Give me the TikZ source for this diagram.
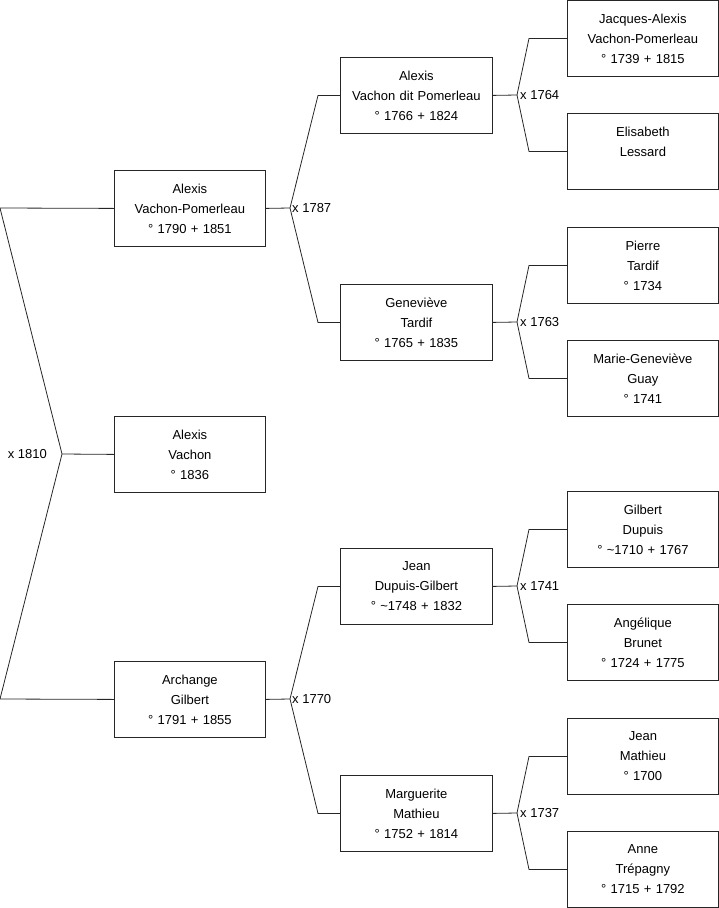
\documentclass[tikz,border=0pt]{standalone}
\usepackage{fontspec}
\setmainfont{Liberation Sans}
\usetikzlibrary{positioning}

\tikzset{
  person/.style={draw=black!85, line width=0.8pt, anchor=north west, inner sep=0pt,
    minimum width=151pt, minimum height=76pt, text width=151pt, align=center,
    font=\fontsize{13pt}{20pt}\selectfont},
  link/.style={draw=black!85, line width=0.8pt},
  wed/.style={font=\fontsize{13pt}{15pt}\selectfont, inner sep=0pt}
}

\begin{document}
\begin{tikzpicture}[x=1pt, y=-1pt]
  \useasboundingbox (0,0) rectangle (719,908);

  % generation 1
  \node[person] (a1) at (114,170) {Alexis\\Vachon-Pomerleau\\° 1790 + 1851};
  \node[person] (a0) at (114,416) {Alexis\\Vachon\\° 1836};
  \node[person] (a2) at (114,661) {Archange\\Gilbert\\° 1791 + 1855};

  % generation 2
  \node[person, minimum width=152pt, text width=152pt] (b1) at (340,57) {Alexis\\Vachon dit Pomerleau\\° 1766 + 1824};
  \node[person, minimum width=152pt, text width=152pt] (b2) at (340,284) {Geneviève\\Tardif\\° 1765 + 1835};
  \node[person, minimum width=152pt, text width=152pt] (b3) at (340,548) {Jean\\Dupuis-Gilbert\\° \textasciitilde 1748 + 1832};
  \node[person, minimum width=152pt, text width=152pt] (b4) at (340,775) {Marguerite\\Mathieu\\° 1752 + 1814};

  % generation 3
  \node[person] (c1) at (567,0) {Jacques-Alexis\\Vachon-Pomerleau\\° 1739 + 1815};
  \node[person] (c2) at (567,113) {Elisabeth\\Lessard\\\mbox{}};
  \node[person] (c3) at (567,227) {Pierre\\Tardif\\° 1734};
  \node[person] (c4) at (567,340) {Marie-Geneviève\\Guay\\° 1741};
  \node[person] (c5) at (567,491) {Gilbert\\Dupuis\\° \textasciitilde 1710 + 1767};
  \node[person] (c6) at (567,604) {Angélique\\Brunet\\° 1724 + 1775};
  \node[person] (c7) at (567,718) {Jean\\Mathieu\\° 1700};
  \node[person] (c8) at (567,831) {Anne\\Trépagny\\° 1715 + 1792};

  % forks
  \coordinate (f0) at (62,454);
  \coordinate (u0) at (0,208);
  \coordinate (d0) at (0,699);
  \coordinate (f1) at (290,208);
  \coordinate (f2) at (290,699);
  \coordinate (g1) at (517,95);
  \coordinate (g2) at (517,322);
  \coordinate (g3) at (517,586);
  \coordinate (g4) at (517,813);

  \draw[link] (a1.west) -- (u0) -- (f0) -- (d0) -- (a2.west);
  \draw[link] (f0) -- (a0.west);
  \node[wed, left=15pt of f0] (m0) {x 1810};

  \draw[link] (a1.east) -- (f1);
  \draw[link] (b1.west) -- ++(-22,0) -- (f1) -- ([xshift=-22pt]b2.west) -- (b2.west);
  \node[wed, right=2pt of f1] (m1) {x 1787};
  \draw[link] (a2.east) -- (f2);
  \draw[link] (b3.west) -- ++(-22,0) -- (f2) -- ([xshift=-22pt]b4.west) -- (b4.west);
  \node[wed, right=2pt of f2] (m2) {x 1770};

  \draw[link] (b1.east) -- (g1);
  \draw[link] (c1.west) -- ++(-38,0) -- (g1) -- ([xshift=-38pt]c2.west) -- (c2.west);
  \node[wed, right=3pt of g1] (m3) {x 1764};
  \draw[link] (b2.east) -- (g2);
  \draw[link] (c3.west) -- ++(-38,0) -- (g2) -- ([xshift=-38pt]c4.west) -- (c4.west);
  \node[wed, right=3pt of g2] (m4) {x 1763};
  \draw[link] (b3.east) -- (g3);
  \draw[link] (c5.west) -- ++(-38,0) -- (g3) -- ([xshift=-38pt]c6.west) -- (c6.west);
  \node[wed, right=3pt of g3] (m5) {x 1741};
  \draw[link] (b4.east) -- (g4);
  \draw[link] (c7.west) -- ++(-38,0) -- (g4) -- ([xshift=-38pt]c8.west) -- (c8.west);
  \node[wed, right=3pt of g4] (m6) {x 1737};
\end{tikzpicture}
\end{document}
